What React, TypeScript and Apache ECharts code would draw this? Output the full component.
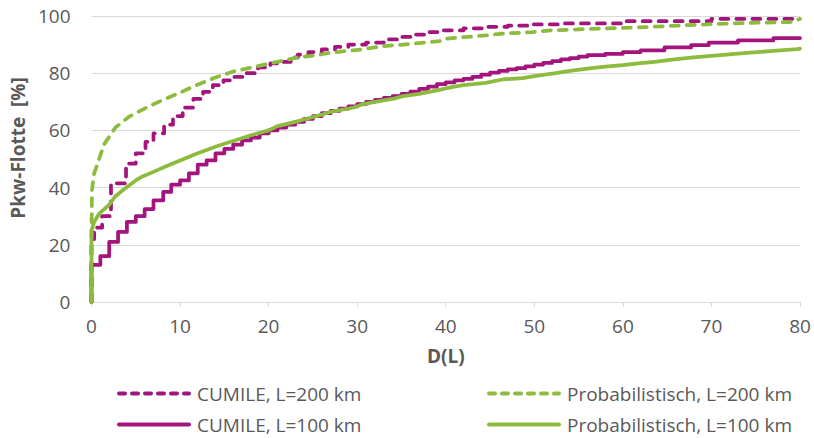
import React, { useEffect, useRef } from "react";
import * as echarts from "echarts";

const PURPLE = "#A3157C";
const GREEN = "#8DBB3E";
const TEXT = "#595959";
const GRID = "#D9D9D9";
const FONT = "'Open Sans', sans-serif";

const seriesNames = [
  "CUMILE, L=200 km",
  "Probabilistisch, L=200 km",
  "CUMILE, L=100 km",
  "Probabilistisch, L=100 km",
];

const xTicks = { min: 0, max: 80, interval: 10 };
const yTicks = { min: 0, max: 100, interval: 20 };

// CUMILE, L=200 km (stepped)
const cumile200: [number, number][] = [
  [0, 0], [0, 22], [0.3, 26], [1.2, 30], [2.2, 41.5], [3.9, 48.4], [5, 52], [6.1, 56],
  [7, 59], [8.2, 62], [9.2, 65], [10.3, 68], [11.5, 71], [12.6, 73.5], [13.7, 75.8],
  [14.9, 77.5], [16, 78.7], [17.4, 80], [18.8, 82], [20.2, 83.4], [21.5, 84], [22.5, 85.5],
  [23.3, 86.5], [24.5, 87.4], [26, 88.3], [27.5, 89.2], [29, 90], [31, 90.7], [33, 91.8],
  [34.5, 92.7], [36, 93.5], [38, 94.4], [39.5, 95], [42, 95.7], [44.5, 96.2], [47, 96.6],
  [49.8, 97.1], [53, 97.4], [59.9, 98.2], [70, 99], [80, 99],
];

// Probabilistisch, L=200 km
const prob200: [number, number][] = [
  [0, 0], [0, 23], [0.05, 39], [0.3, 45], [0.7, 48.5], [1.4, 55], [2.7, 61], [4.2, 64.7],
  [6.1, 67.8], [8, 70.6], [10, 73.2], [11.7, 75.6], [13.9, 78.4], [16, 80.6], [18.4, 82.2],
  [20.7, 83.8], [23.3, 85.5], [25.5, 86.3], [27, 87.2], [29.6, 88], [30.7, 88.4], [33, 89.5],
  [35.2, 90], [37, 90.5], [39.3, 91.2], [39.7, 92], [42, 92.6], [44.5, 93.2], [46.4, 93.8],
  [49.8, 94.4], [52, 95], [57.6, 95.6], [63.2, 96.2], [68.8, 97], [74.4, 97.6], [78.9, 97.9],
  [80, 99],
];

// CUMILE, L=100 km (stepped)
const cumile100: [number, number][] = [
  [0, 0], [0, 13], [1, 16], [2, 21], [3, 24.5], [4, 28], [5, 30], [6, 32.5], [7, 35.5],
  [8.1, 38.5], [9, 41], [10, 42.5], [11, 45], [12, 48], [13, 49.5], [14, 52], [15, 53.5],
  [16, 55], [17, 56.5], [18, 57.5], [19, 59], [20, 60], [21, 61], [22, 62], [23, 63],
  [24, 64], [25, 65], [26, 66], [27, 66.8], [28, 67.6], [29, 68.4], [30, 69.2], [31, 70],
  [32, 70.7], [33, 71.4], [34, 72], [35, 72.8], [36, 73.6], [37, 74.5], [38, 75.3],
  [39, 76.2], [40, 76.8], [41, 77.5], [42, 78], [43, 78.7], [44, 79.5], [45, 80.2],
  [46, 80.8], [47, 81.3], [48, 81.8], [49, 82.4], [50, 83], [51, 83.6], [52, 84.2],
  [53, 84.8], [54, 85.3], [55, 85.8], [56, 86.3], [58, 86.8], [60, 87.4], [62, 88],
  [64.7, 89], [67.7, 89.8], [69.7, 90.7], [73, 91.5], [77, 92.3], [80, 92.3],
];

// Probabilistisch, L=100 km
const prob100: [number, number][] = [
  [0, 0], [0, 25], [0.3, 28], [0.9, 31], [2, 34], [2.7, 37], [3.7, 39.5], [5, 42.5],
  [5.7, 43.8], [7, 45.5], [8.3, 47.3], [10, 49.5], [12, 52], [14, 54.3], [15.1, 55.4],
  [16, 56.3], [18, 58.3], [20, 60], [21, 61.5], [23, 63], [24, 63.8], [26, 65.5], [27, 66.5],
  [29.6, 68], [30.7, 69.2], [32, 70], [34, 71], [35.2, 72], [37, 72.8], [39, 74],
  [40.8, 75.2], [42, 75.8], [44.5, 76.6], [46.4, 77.8], [48.7, 78.3], [50, 79], [52.4, 80],
  [54, 80.8], [56, 81.6], [58, 82.3], [60, 82.8], [62, 83.5], [63.6, 84], [65.8, 84.8],
  [68, 85.5], [71, 86.3], [74, 87.1], [77, 87.8], [79.7, 88.4], [80, 88.6],
];

const seriesData = [cumile200, prob200, cumile100, prob100];
const seriesColors = [PURPLE, GREEN, PURPLE, GREEN];
const seriesDashed = [true, true, false, false];
const seriesStepped = [true, false, true, false];

export default function App() {
  const ref = useRef<HTMLDivElement>(null);

  useEffect(() => {
    if (!ref.current) return;
    const chart = echarts.init(ref.current, null, { renderer: "svg" });
    const legendText = { fontFamily: FONT, fontSize: 19, color: TEXT, padding: [0, 0, 0, 3] };
    const legendPos = [
      { left: 117, top: 384 },
      { left: 487, top: 384 },
      { left: 117, top: 415 },
      { left: 487, top: 415 },
    ];
    chart.setOption({
      animation: false,
      backgroundColor: "#ffffff",
      grid: { left: 85, right: 14, top: 16, bottom: 136, containLabel: false },
      xAxis: {
        type: "value",
        min: xTicks.min,
        max: xTicks.max,
        interval: xTicks.interval,
        name: "D(L)",
        nameLocation: "middle",
        nameGap: 44,
        nameTextStyle: { fontFamily: FONT, fontSize: 19, fontWeight: "bold", color: TEXT },
        axisLine: { show: true, lineStyle: { color: GRID, width: 1 } },
        axisTick: { show: true, length: 5, lineStyle: { color: GRID } },
        axisLabel: { fontFamily: FONT, fontSize: 19, color: TEXT, margin: 14 },
        splitLine: { show: false },
      },
      yAxis: {
        type: "value",
        min: yTicks.min,
        max: yTicks.max,
        interval: yTicks.interval,
        name: "Pkw-Flotte  [%]",
        nameLocation: "middle",
        nameRotate: 90,
        nameGap: 60,
        nameTextStyle: {
          fontFamily: FONT,
          fontSize: 19,
          fontWeight: "bold",
          color: TEXT,
          padding: [0, 0, 0, 22],
        },
        axisLine: { show: false },
        axisTick: { show: false },
        axisLabel: { fontFamily: FONT, fontSize: 19, color: TEXT, margin: 21 },
        splitLine: { show: true, lineStyle: { color: GRID, width: 1 } },
      },
      legend: seriesNames.map((name, i) => ({
        orient: "horizontal",
        left: legendPos[i].left,
        top: legendPos[i].top,
        padding: 0,
        itemWidth: 70,
        itemHeight: 16,
        textStyle: legendText,
        itemStyle: { opacity: 0 },
        lineStyle: {
          width: 4,
          cap: "round",
          type: seriesDashed[i] ? [6, 7] : "solid",
        },
        data: [name],
      })),
      series: seriesNames.map((name, i) => ({
        name,
        type: "line",
        data: seriesData[i],
        step: seriesStepped[i] ? "end" : false,
        symbol: "none",
        showSymbol: false,
        smooth: false,
        color: seriesColors[i],
        lineStyle: {
          color: seriesColors[i],
          width: 3.75,
          type: seriesDashed[i] ? [8, 8] : "solid",
          cap: "round",
          join: "round",
        },
        z: 2 + i,
      })),
    });
    return () => chart.dispose();
  }, []);

  return (
    <div
      ref={ref}
      style={{ position: "absolute", left: 0, top: 0, width: 814, height: 438 }}
    />
  );
}
